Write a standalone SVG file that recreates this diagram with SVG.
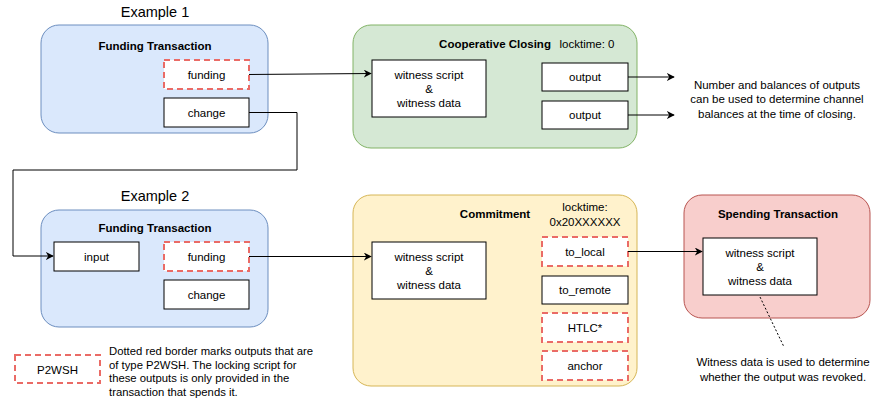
<svg xmlns="http://www.w3.org/2000/svg" width="871" height="400" viewBox="0 0 871 400">
  <defs>
    <marker id="arrow" viewBox="0 0 10 10" refX="9" refY="5" markerWidth="8" markerHeight="8" markerUnits="userSpaceOnUse" orient="auto">
      <path d="M0,0 L10,5 L0,10 L3,5 Z" fill="#000"/>
    </marker>
  </defs>
  <style>
    text { font-family: "Liberation Sans", Arial, Helvetica, sans-serif; fill: #000; }
    .t { font-size: 11.5px; text-anchor: middle; }
    .tl { font-size: 11.3px; text-anchor: start; }
    .b { font-size: 11.5px; font-weight: bold; text-anchor: middle; }
    .h { font-size: 14.5px; text-anchor: middle; }
    .box { fill: #fff; stroke: #000; stroke-width: 1; }
    .p2wsh { fill: #fff; stroke: #ea6b66; stroke-width: 2; stroke-dasharray: 6 4; }
    .blue { fill: #dae8fc; stroke: #6c8ebf; stroke-width: 1; }
    .green { fill: #d5e8d4; stroke: #82b366; stroke-width: 1; }
    .yellow { fill: #fff2cc; stroke: #d6b656; stroke-width: 1; }
    .red { fill: #f8cecc; stroke: #b85450; stroke-width: 1; }
    .edge { fill: none; stroke: #000; stroke-width: 1; }
  </style>

  <!-- Section titles -->
  <text class="h" x="155" y="17">Example 1</text>
  <text class="h" x="155" y="201">Example 2</text>

  <!-- Example 1: funding transaction -->
  <g id="funding-tx-1">
    <rect class="blue" x="41" y="25" width="227" height="108" rx="18"/>
    <text class="b" x="155" y="50">Funding Transaction</text>
  </g>
  <g id="funding-1">
    <rect class="p2wsh" x="164" y="60" width="85" height="29"/>
    <text class="t" x="206.5" y="79">funding</text>
  </g>
  <g id="change-1">
    <rect class="box" x="164" y="98" width="85" height="29"/>
    <text class="t" x="206.5" y="117">change</text>
  </g>

  <!-- Cooperative closing transaction -->
  <g id="coop-close">
    <rect class="green" x="353" y="25" width="284" height="123" rx="18"/>
    <text class="b" x="495" y="48">Cooperative Closing</text>
    <text class="t" x="587" y="48">locktime: 0</text>
  </g>
  <g id="coop-witness">
    <rect class="box" x="372" y="60" width="114" height="57"/>
    <text class="t" x="429" y="79">witness script</text>
    <text class="t" x="429" y="93">&amp;</text>
    <text class="t" x="429" y="107">witness data</text>
  </g>
  <g id="coop-output-1">
    <rect class="box" x="542" y="63" width="86" height="28"/>
    <text class="t" x="585" y="81">output</text>
  </g>
  <g id="coop-output-2">
    <rect class="box" x="542" y="101" width="86" height="28"/>
    <text class="t" x="585" y="119">output</text>
  </g>
  <g id="coop-note">
    <text class="t" x="777" y="89">Number and balances of outputs</text>
    <text class="t" x="777" y="103">can be used to determine channel</text>
    <text class="t" x="777" y="118">balances at the time of closing.</text>
  </g>

  <!-- Example 2: funding transaction -->
  <g id="funding-tx-2">
    <rect class="blue" x="41" y="210" width="227" height="117" rx="18"/>
    <text class="b" x="155" y="232">Funding Transaction</text>
  </g>
  <g id="input-2">
    <rect class="box" x="54" y="242" width="85" height="29"/>
    <text class="t" x="96.5" y="261">input</text>
  </g>
  <g id="funding-2">
    <rect class="p2wsh" x="164" y="242" width="85" height="29"/>
    <text class="t" x="206.5" y="261">funding</text>
  </g>
  <g id="change-2">
    <rect class="box" x="164" y="280" width="85" height="29"/>
    <text class="t" x="206.5" y="299">change</text>
  </g>

  <!-- Commitment transaction -->
  <g id="commitment">
    <rect class="yellow" x="353" y="195" width="284" height="191" rx="18"/>
    <text class="b" x="495" y="218">Commitment</text>
    <text class="t" x="585" y="211">locktime:</text>
    <text class="t" x="585" y="226">0x20XXXXXX</text>
  </g>
  <g id="commit-witness">
    <rect class="box" x="372" y="242" width="114" height="57"/>
    <text class="t" x="429" y="261">witness script</text>
    <text class="t" x="429" y="275">&amp;</text>
    <text class="t" x="429" y="289">witness data</text>
  </g>
  <g id="to-local">
    <rect class="p2wsh" x="542" y="237" width="86" height="29"/>
    <text class="t" x="585" y="256">to_local</text>
  </g>
  <g id="to-remote">
    <rect class="box" x="542" y="276" width="86" height="28"/>
    <text class="t" x="585" y="294">to_remote</text>
  </g>
  <g id="htlc">
    <rect class="p2wsh" x="542" y="313" width="86" height="29"/>
    <text class="t" x="585" y="332">HTLC*</text>
  </g>
  <g id="anchor">
    <rect class="p2wsh" x="542" y="351" width="86" height="29"/>
    <text class="t" x="585" y="370">anchor</text>
  </g>

  <!-- Spending transaction -->
  <g id="spending-tx">
    <rect class="red" x="684" y="195" width="186" height="123" rx="18"/>
    <text class="b" x="778" y="218">Spending Transaction</text>
  </g>
  <g id="spend-witness">
    <rect class="box" x="703" y="238" width="114" height="57"/>
    <text class="t" x="760" y="257">witness script</text>
    <text class="t" x="760" y="271">&amp;</text>
    <text class="t" x="760" y="285">witness data</text>
  </g>
  <g id="spend-note">
    <text class="t" x="783" y="366">Witness data is used to determine</text>
    <text class="t" x="783" y="381">whether the output was revoked.</text>
  </g>

  <!-- Legend -->
  <g id="legend">
    <rect class="p2wsh" x="15" y="355" width="85" height="28"/>
    <text class="t" x="57.5" y="374">P2WSH</text>
    <text class="tl" x="109" y="355">Dotted red border marks outputs that are</text>
    <text class="tl" x="109" y="369">of type P2WSH. The locking script for</text>
    <text class="tl" x="109" y="382">these outputs is only provided in the</text>
    <text class="tl" x="109" y="396">transaction that spends it.</text>
  </g>

  <!-- Connectors -->
  <g id="connectors">
    <path class="edge" d="M249,74.5 L371,73.5" marker-end="url(#arrow)"/>
    <path class="edge" d="M249,112.5 L297,112.5 L297,170 L13,170 L13,256 L53,256" marker-end="url(#arrow)"/>
    <path class="edge" d="M628,77 L674,77" marker-end="url(#arrow)"/>
    <path class="edge" d="M628,115 L674,115" marker-end="url(#arrow)"/>
    <path class="edge" d="M249,256.5 L371,256.5" marker-end="url(#arrow)"/>
    <path class="edge" d="M628,251.5 L702,251.5" marker-end="url(#arrow)"/>
    <path class="edge" d="M760,297 L784,347" stroke-dasharray="2 2"/>
  </g>
</svg>
